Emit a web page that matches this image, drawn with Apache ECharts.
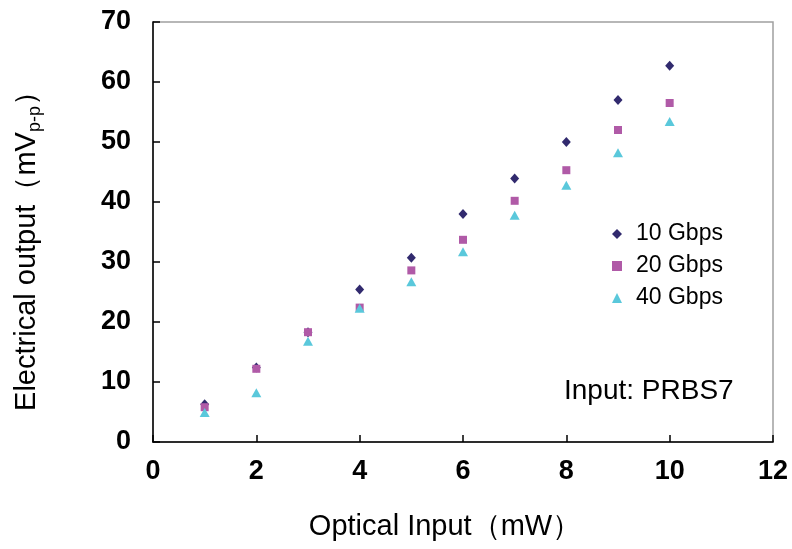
<!DOCTYPE html>
<html>
<head>
<meta charset="utf-8">
<script src="https://cdn.jsdelivr.net/npm/echarts@6/dist/echarts.min.js"></script>
<style>
html,body{margin:0;padding:0;background:#fff;}
#chart{width:792px;height:549px;}
</style>
</head>
<body>
<div id="chart"></div>
<script>
var xValues = [1, 2, 3, 4, 5, 6, 7, 8, 9, 10];
var gbps10 = [6.3, 12.4, 18.3, 25.4, 30.7, 38.0, 43.9, 50.0, 57.0, 62.7];
var gbps20 = [5.8, 12.2, 18.3, 22.4, 28.6, 33.7, 40.2, 45.3, 52.0, 56.5];
var gbps40 = [4.9, 8.2, 16.8, 22.3, 26.7, 31.7, 37.8, 42.8, 48.2, 53.4];
var seriesNames = ['10 Gbps', '20 Gbps', '40 Gbps'];
var xTicks = [0, 2, 4, 6, 8, 10, 12];
var yTicks = [0, 10, 20, 30, 40, 50, 60, 70];

function pairs(ys) { return xValues.map(function (x, i) { return [x, ys[i]]; }); }

var FONT = '"Liberation Sans", Arial, sans-serif';
var chart = echarts.init(document.getElementById('chart'));
chart.setOption({
  animation: false,
  backgroundColor: '#fff',
  grid: { left: 153, top: 22, right: 19, bottom: 107, show: true, borderColor: '#a0a0a0', borderWidth: 1.5, backgroundColor: 'transparent' },
  legend: {
    orient: 'vertical', left: 607, top: 217, itemGap: 8,
    itemWidth: 10, itemHeight: 10,
    data: seriesNames,
    textStyle: { fontFamily: FONT, fontSize: 23, color: '#000', lineHeight: 24, padding: [0, 0, 0, 9] }
  },
  xAxis: {
    type: 'value', min: xTicks[0], max: xTicks[xTicks.length - 1], interval: 2,
    name: 'Optical Input（mW）', nameLocation: 'middle', nameGap: 70,
    nameTextStyle: { fontFamily: FONT, fontSize: 29, color: '#000', padding: [0, 36, 0, 0] },
    axisLine: { show: true, lineStyle: { color: '#000', width: 1.5 } },
    axisTick: { show: true, inside: true, length: 7, lineStyle: { color: '#000', width: 1.5 } },
    axisLabel: { fontFamily: FONT, fontSize: 27, fontWeight: 'bold', color: '#000', margin: 16 },
    splitLine: { show: false }
  },
  yAxis: {
    type: 'value', min: yTicks[0], max: yTicks[yTicks.length - 1], interval: 10,
    name: '{a|Electrical output（mV}{s|p-p}{a|）}', nameLocation: 'middle', nameGap: 109, nameRotate: 90,
    nameTextStyle: {
      fontFamily: FONT, fontSize: 29, color: '#000', padding: [0, 24, 0, 0],
      rich: {
        a: { fontFamily: FONT, fontSize: 29, color: '#000' },
        s: { fontFamily: FONT, fontSize: 18, color: '#000', padding: [17, 0, 0, 0] }
      }
    },
    axisLine: { show: true, lineStyle: { color: '#000', width: 1.5 } },
    axisTick: { show: true, inside: true, length: 7, lineStyle: { color: '#000', width: 1.5 } },
    axisLabel: { fontFamily: FONT, fontSize: 27, fontWeight: 'bold', color: '#000', margin: 22 },
    splitLine: { show: false }
  },
  graphic: [{
    type: 'text', left: 564, top: 377,
    style: { text: 'Input: PRBS7', font: '28px ' + FONT, fill: '#000' }
  }],
  series: [
    { name: seriesNames[0], type: 'scatter', symbol: 'diamond', symbolSize: [9, 10], data: pairs(gbps10), itemStyle: { color: '#312a6e', opacity: 1 } },
    { name: seriesNames[1], type: 'scatter', symbol: 'rect', symbolSize: 8, data: pairs(gbps20), itemStyle: { color: '#b05aa7', opacity: 1 } },
    { name: seriesNames[2], type: 'scatter', symbol: 'triangle', symbolSize: [10, 9], data: pairs(gbps40), itemStyle: { color: '#5ac8db', opacity: 1 } }
  ]
});
</script>
</body>
</html>
